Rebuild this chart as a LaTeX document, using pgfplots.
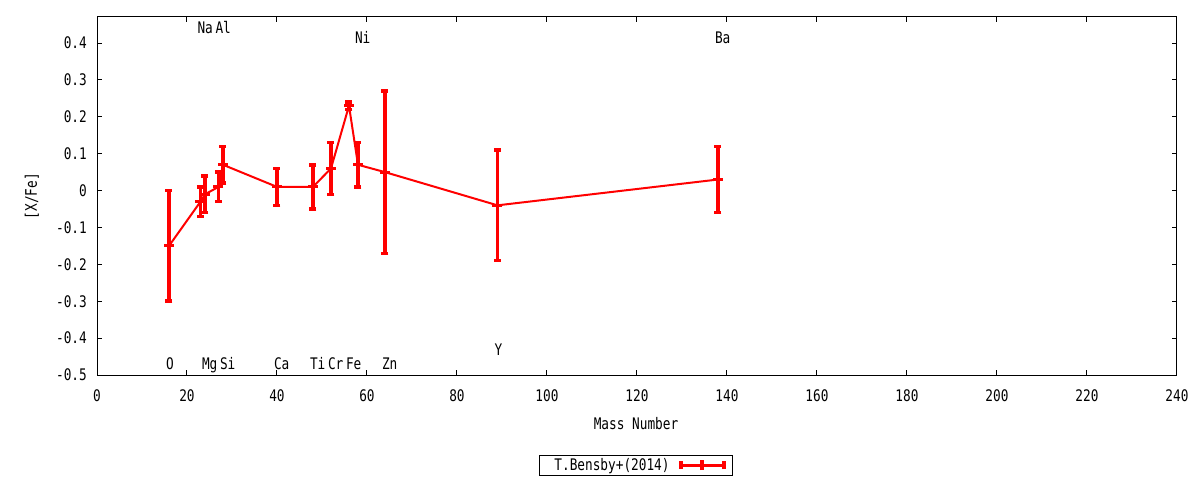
\documentclass[border=0pt]{standalone}
\usepackage{pgfplots}
\usepackage{pgfplotstable}
\pgfplotsset{compat=1.18}
\usepackage{fontspec}
\setmainfont{DejaVu Sans Mono}[FakeStretch=0.8]

% mass number, [X/Fe], error
\pgfplotstableread{
mass val err
16 -0.15 0.15
23 -0.03 0.04
24 -0.01 0.05
27 0.01 0.04
28 0.07 0.05
40 0.01 0.05
48 0.01 0.06
52 0.06 0.07
56 0.23 0.01
58 0.07 0.06
64 0.05 0.22
89 -0.04 0.15
138 0.03 0.09
}\bensby

\begin{document}
\begin{tikzpicture}[font=\fontsize{16}{19}\selectfont]
\path[use as bounding box] (-97bp,-105bp) rectangle (1103bp,375bp);
\begin{axis}[
  at={(0,0)}, anchor=south west,
  scale only axis, width=1080bp, height=358bp,
  xmin=0, xmax=240, ymin=-0.5, ymax=0.4706,
  xtick={0,20,...,240},
  ytick={-0.5,-0.4,-0.3,-0.2,-0.1,0,0.1,0.2,0.3,0.4},
  axis line style={line width=1bp},
  tick style={black, line width=1bp},
  major tick length=5bp, tick align=inside,
  /pgf/number format/assume math mode=true,
  yticklabel style={/pgf/number format/fixed, /pgf/number format/precision=1,
    anchor=east, inner sep=0pt, xshift=-10bp},
  xticklabel style={anchor=north, inner sep=0pt, yshift=-14bp},
  xlabel={Mass Number},
  ylabel={[X/Fe]},
  xlabel style={at={(axis description cs:0.4991,-0.1369)}, anchor=center},
  ylabel style={at={(axis description cs:-0.0602,0.5)}, anchor=center},
  legend style={at={(axis description cs:0.4991,-0.2514)}, anchor=center,
    draw=black, line width=1bp, inner xsep=7bp, inner ysep=3bp,
    nodes={inner sep=0pt}, column sep=9bp},
  legend plot pos=right,
  legend image code/.code={
    \draw[line width=3bp] (0bp,0bp) -- (43bp,0bp);
    \draw[line width=4bp] (0bp,-4bp) -- (0bp,4bp) (43bp,-4bp) -- (43bp,4bp)
      (21.5bp,-5bp) -- (21.5bp,5bp);
  },
]
\addplot[red, line width=2bp, mark=-, mark size=5bp, mark options={line width=3bp},
  error bars/.cd, y dir=both, y explicit,
  error bar style={line width=3.5bp},
  error mark options={rotate=90, line width=3.5bp, mark size=3.5bp}]
  table[x=mass, y=val, y error=err] {\bensby};
\addlegendentry{\hspace{8bp}T.Bensby+(2014)}

\node[anchor=base west, inner sep=0pt] at (axis cs:22.3,0.4266) {Na};
\node[anchor=base west, inner sep=0pt] at (axis cs:26.3,0.4266) {Al};
\node[anchor=base west, inner sep=0pt] at (axis cs:57.3,0.3995) {Ni};
\node[anchor=base west, inner sep=0pt] at (axis cs:137.3,0.3995) {Ba};
\node[anchor=base west, inner sep=0pt] at (axis cs:15.3,-0.4864) {O};
\node[anchor=base west, inner sep=0pt] at (axis cs:23.3,-0.4864) {Mg};
\node[anchor=base west, inner sep=0pt] at (axis cs:27.3,-0.4864) {Si};
\node[anchor=base west, inner sep=0pt] at (axis cs:39.3,-0.4864) {Ca};
\node[anchor=base west, inner sep=0pt] at (axis cs:47.3,-0.4864) {Ti};
\node[anchor=base west, inner sep=0pt] at (axis cs:51.3,-0.4864) {Cr};
\node[anchor=base west, inner sep=0pt] at (axis cs:55.3,-0.4864) {Fe};
\node[anchor=base west, inner sep=0pt] at (axis cs:63.3,-0.4864) {Zn};
\node[anchor=base west, inner sep=0pt] at (axis cs:88.3,-0.448) {Y};
\end{axis}
\end{tikzpicture}
\end{document}
